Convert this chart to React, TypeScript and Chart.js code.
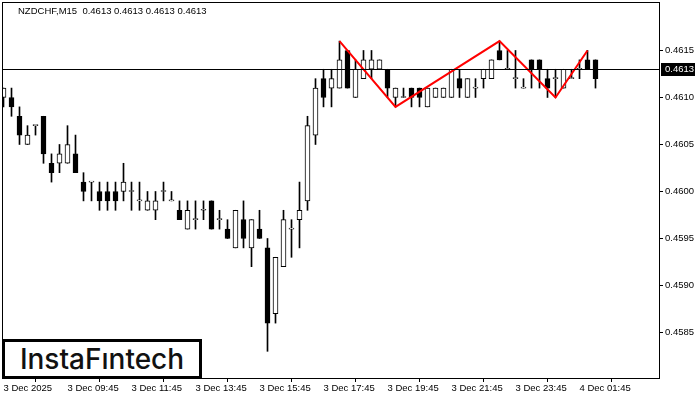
import React, { useEffect, useRef } from 'react';
import { Chart, registerables } from 'chart.js';

Chart.register(...registerables);

const symbolName = 'NZDCHF,M15';
const headerValues = [0.4613, 0.4613, 0.4613, 0.4613];
const lastPrice = 0.4613;

const timeTickIndex = [0, 8, 16, 24, 32, 40, 48, 56, 64, 72];
const timeTickLabels = [
  '3 Dec 2025', '3 Dec 09:45', '3 Dec 11:45', '3 Dec 13:45', '3 Dec 15:45',
  '3 Dec 17:45', '3 Dec 19:45', '3 Dec 21:45', '3 Dec 23:45', '4 Dec 01:45',
];
const priceTicks = [0.4585, 0.459, 0.4595, 0.46, 0.4605, 0.461, 0.4615];

const opens = [
  0.4610, 0.4610, 0.4608, 0.4605, 0.4607, 0.4608, 0.4603, 0.4603, 0.4603, 0.4604,
  0.4601, 0.4601, 0.4600, 0.4600, 0.4600, 0.4600, 0.4600, 0.4599, 0.4598, 0.4598,
  0.4600, 0.4599, 0.4598, 0.4596, 0.4597, 0.4598, 0.4599, 0.4597, 0.4596, 0.4594,
  0.4597, 0.4594, 0.4596, 0.4594, 0.4587, 0.4592, 0.4596, 0.4597, 0.4599, 0.4606,
  0.4612, 0.4611, 0.4611, 0.4615, 0.4610, 0.4612, 0.4613, 0.4613, 0.4613, 0.4610,
  0.4610, 0.4611, 0.4611, 0.4609, 0.4610, 0.4610, 0.4610, 0.4612, 0.4610, 0.4611,
  0.4612, 0.4612, 0.4615, 0.4613, 0.4612, 0.4611, 0.4614, 0.4614, 0.4612, 0.4612,
  0.4611, 0.4612, 0.4613, 0.4614, 0.4614,
];
const highs = [
  0.4611, 0.4611, 0.4609, 0.4607, 0.4607, 0.4608, 0.4604, 0.4605, 0.4607, 0.4606,
  0.4602, 0.4601, 0.4601, 0.4601, 0.4601, 0.4603, 0.4601, 0.4601, 0.4600, 0.4600,
  0.4601, 0.4600, 0.4599, 0.4599, 0.4599, 0.4599, 0.4599, 0.4598, 0.4597, 0.4598,
  0.4599, 0.4597, 0.4598, 0.4595, 0.4593, 0.4598, 0.4597, 0.4601, 0.4608, 0.4612,
  0.4613, 0.4613, 0.4616, 0.4615, 0.4614, 0.4615, 0.4615, 0.4614, 0.4613, 0.4611,
  0.4611, 0.4611, 0.4611, 0.4611, 0.4611, 0.4611, 0.4613, 0.4613, 0.4612, 0.4612,
  0.4613, 0.4614, 0.4616, 0.4615, 0.4615, 0.4612, 0.4614, 0.4614, 0.4613, 0.4613,
  0.4613, 0.4613, 0.4614, 0.4615, 0.4614,
];
const lows = [
  0.4609, 0.4608, 0.4605, 0.4605, 0.4606, 0.4603, 0.4601, 0.4602, 0.4603, 0.4602,
  0.4599, 0.4599, 0.4598, 0.4598, 0.4598, 0.4599, 0.4598, 0.4598, 0.4598, 0.4597,
  0.4599, 0.4599, 0.4597, 0.4596, 0.4596, 0.4597, 0.4596, 0.4596, 0.4595, 0.4594,
  0.4594, 0.4592, 0.4595, 0.4583, 0.4586, 0.4592, 0.4593, 0.4594, 0.4598, 0.4605,
  0.4609, 0.4609, 0.4611, 0.4611, 0.4610, 0.4612, 0.4612, 0.4613, 0.4610, 0.4609,
  0.4610, 0.4609, 0.4609, 0.4609, 0.4610, 0.4610, 0.4610, 0.4610, 0.4610, 0.4610,
  0.4611, 0.4612, 0.4614, 0.4613, 0.4611, 0.4611, 0.4611, 0.4611, 0.4610, 0.4610,
  0.4611, 0.4612, 0.4612, 0.4613, 0.4611,
];
const closes = [
  0.4611, 0.4609, 0.4606, 0.4606, 0.4607, 0.4604, 0.4602, 0.4604, 0.4605, 0.4602,
  0.4600, 0.4601, 0.4599, 0.4599, 0.4599, 0.4601, 0.4600, 0.4599, 0.4599, 0.4599,
  0.4600, 0.4599, 0.4597, 0.4598, 0.4597, 0.4598, 0.4596, 0.4597, 0.4595, 0.4598,
  0.4595, 0.4597, 0.4595, 0.4586, 0.4593, 0.4597, 0.4596, 0.4598, 0.4607, 0.4611,
  0.4610, 0.4612, 0.4614, 0.4611, 0.4613, 0.4614, 0.4614, 0.4614, 0.4611, 0.4611,
  0.4610, 0.4610, 0.4610, 0.4611, 0.4611, 0.4611, 0.4613, 0.4611, 0.4612, 0.4611,
  0.4613, 0.4614, 0.4614, 0.4613, 0.4612, 0.4611, 0.4613, 0.4613, 0.4611, 0.4612,
  0.4613, 0.4612, 0.4613, 0.4613, 0.4612,
];

const patternIndex = [42, 49, 62, 69, 73];
const patternPrice = [0.4616, 0.4609, 0.4616, 0.4610, 0.4615];

const X_MIN = -0.0625;
const X_MAX = 82.0625;
const Y_MIN = 0.458016;
const Y_MAX = 0.462005;
const AXIS_FONT = { family: '"Liberation Sans", Arial, sans-serif', size: 9.5 };

export default function App() {
  const canvasRef = useRef<HTMLCanvasElement | null>(null);

  useEffect(() => {
    const canvas = canvasRef.current;
    if (!canvas) return;

    const overlayPlugin = {
      id: 'mtOverlay',
      afterDatasetsDraw(chart: any) {
        const { ctx, chartArea } = chart;
        const yScale = chart.scales.y;
        const py = Math.round(yScale.getPixelForValue(lastPrice)) + 0.5;
        ctx.save();
        ctx.strokeStyle = '#000';
        ctx.lineWidth = 1;
        ctx.beginPath();
        ctx.moveTo(chartArea.left, py);
        ctx.lineTo(chartArea.right, py);
        ctx.stroke();
        ctx.restore();
      },
      afterDraw(chart: any) {
        const { ctx, chartArea } = chart;
        const yScale = chart.scales.y;
        ctx.save();
        ctx.strokeStyle = '#000';
        ctx.lineWidth = 1;
        ctx.strokeRect(chartArea.left - 0.5, chartArea.top - 0.5,
          chartArea.right - chartArea.left, chartArea.bottom - chartArea.top + 1);
        ctx.fillStyle = '#000';
        ctx.font = '9.5px "Liberation Sans", Arial, sans-serif';
        ctx.textBaseline = 'middle';
        ctx.textAlign = 'left';
        const header = symbolName + '  ' + headerValues.map((v) => v.toFixed(4)).join(' ');
        ctx.fillText(header, 18, 11);
        const py = Math.round(yScale.getPixelForValue(lastPrice));
        ctx.fillStyle = '#000';
        ctx.fillRect(chartArea.right + 1, py - 6, 34, 13);
        ctx.fillStyle = '#fff';
        ctx.fillText(lastPrice.toFixed(4), chartArea.right + 5, py + 0.5);
        ctx.restore();
      },
    };

    const chart = new Chart(canvas, {
      type: 'bar',
      data: {
        datasets: [
          {
            type: 'line',
            data: patternIndex.map((x, k) => ({ x, y: patternPrice[k] })),
            borderColor: '#ff0000',
            borderWidth: 2,
            pointRadius: 0,
            tension: 0,
            fill: false,
          } as any,
          {
            type: 'bar',
            data: opens.map((o, i) => ({ x: i, y: [o, closes[i]] })),
            backgroundColor: opens.map((o, i) => (closes[i] >= o ? '#ffffff' : '#000000')),
            borderColor: '#000000',
            borderWidth: 1,
            borderSkipped: false,
            barThickness: 5,
            minBarLength: 1,
            grouped: false,
          } as any,
          {
            type: 'bar',
            data: opens.map((_, i) => ({ x: i, y: [lows[i], highs[i]] })),
            backgroundColor: '#000000',
            borderWidth: 0,
            barThickness: 1,
            minBarLength: 1,
            grouped: false,
          } as any,
        ],
      },
      options: {
        responsive: false,
        animation: false,
        devicePixelRatio: 1,
        layout: { padding: { left: 3, top: 3, right: 0, bottom: 0 } },
        plugins: { legend: { display: false }, tooltip: { enabled: false }, title: { display: false } },
        scales: {
          x: {
            type: 'linear',
            position: 'bottom',
            min: X_MIN,
            max: X_MAX,
            offset: false,
            afterBuildTicks: (scale: any) => {
              scale.ticks = timeTickIndex.map((v) => ({ value: v }));
            },
            afterFit: (scale: any) => {
              scale.height = 22;
              scale.paddingLeft = 0;
              scale.paddingRight = 0;
              scale.paddingTop = 0;
              scale.paddingBottom = 0;
            },
            ticks: {
              autoSkip: false,
              maxRotation: 0,
              minRotation: 0,
              align: 'start',
              padding: 1,
              color: '#000',
              font: AXIS_FONT,
              callback: (v: any) => {
                const k = timeTickIndex.indexOf(Number(v));
                return k >= 0 ? timeTickLabels[k] : '';
              },
            },
            grid: { display: true, drawOnChartArea: false, drawTicks: true, tickLength: 4, color: '#000' },
            border: { display: false },
          },
          y: {
            type: 'linear',
            position: 'right',
            min: Y_MIN,
            max: Y_MAX,
            afterBuildTicks: (scale: any) => {
              scale.ticks = priceTicks.map((v) => ({ value: v }));
            },
            afterFit: (scale: any) => {
              scale.width = 40;
              scale.paddingLeft = 0;
              scale.paddingRight = 0;
              scale.paddingTop = 0;
              scale.paddingBottom = 0;
            },
            ticks: {
              padding: 2,
              color: '#000',
              font: AXIS_FONT,
              callback: (v: any) => Number(v).toFixed(4),
            },
            grid: { display: true, drawOnChartArea: false, drawTicks: true, tickLength: 3, color: '#000' },
            border: { display: false },
          },
        },
      } as any,
      plugins: [overlayPlugin],
    });

    return () => chart.destroy();
  }, []);

  return (
    <div style={{ position: 'absolute', left: 0, top: 0, width: 700, height: 400, background: '#fff' }}>
      <canvas ref={canvasRef} width={700} height={400} style={{ display: 'block' }} />
      <div
        style={{
          position: 'absolute',
          left: 2,
          top: 339,
          width: 200,
          height: 40,
          boxSizing: 'border-box',
          border: '3px solid #000',
          background: '#fff',
          display: 'flex',
          alignItems: 'center',
          justifyContent: 'center',
          fontFamily: 'Inter, "Noto Sans", sans-serif',
          fontWeight: 500,
          fontSize: 28,
          color: '#111',
          lineHeight: 1,
        }}
      >
        InstaFıntech
      </div>
    </div>
  );
}
